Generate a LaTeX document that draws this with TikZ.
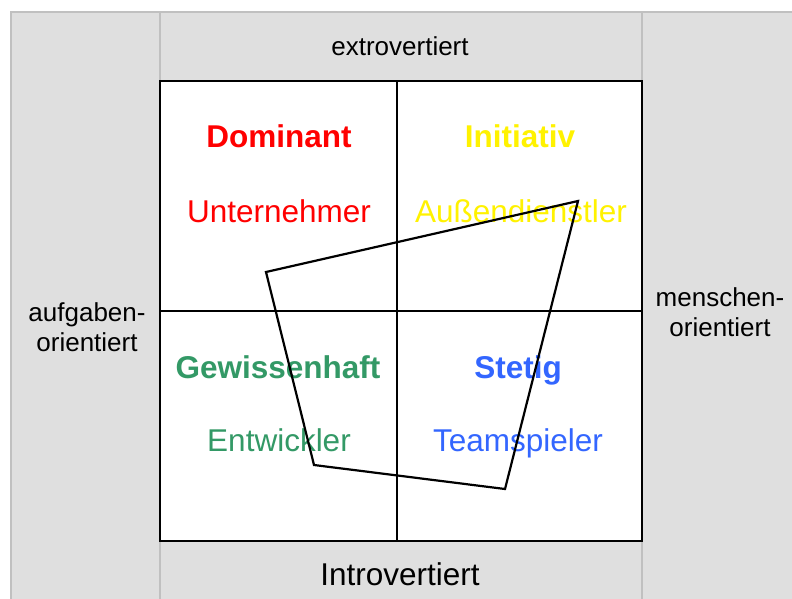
\documentclass[tikz,border=0pt]{standalone}
\usepackage{fontspec}
\setmainfont{Liberation Sans}
\definecolor{panelgray}{RGB}{223,223,223}
\definecolor{rulegray}{RGB}{192,192,192}
\definecolor{dgreen}{RGB}{51,153,102}
\definecolor{sblue}{RGB}{51,102,255}
\newcommand{\bigtxt}{\fontsize{31.5}{36}\selectfont}
\newcommand{\axistxt}{\fontsize{26}{30}\selectfont}

\begin{document}
\begin{tikzpicture}[x=1pt,y=-1pt,
	type/.style={anchor=base,inner sep=0pt,font=\bigtxt\bfseries},
	role/.style={anchor=base,inner sep=0pt,font=\bigtxt},
	axis/.style={anchor=base,inner sep=0pt,align=center,font=\axistxt}]
	\useasboundingbox (0,0) rectangle (792,598);
	% gray frame around the quadrants
	\fill[panelgray] (11,12) rectangle (796,602);
	\draw[rulegray,line width=1.8pt] (11,602) -- (11,12) -- (796,12);
	\draw[rulegray,line width=1.5pt] (160,12) -- (160,602) (642,12) -- (642,602);
	% the four quadrants
	\coordinate (nw) at (160,81);
	\coordinate (se) at (642,541);
	\coordinate (mid) at (397,311);
	\filldraw[fill=white,line width=1.8pt] (nw) rectangle (se);
	\draw[line width=1.8pt] (mid |- nw) -- (mid |- se) (nw |- mid) -- (se |- mid);
	% axis labels (base = last line)
	\node[axis] (extro) at (400,55) {extrovertiert};
	\node[anchor=base,inner sep=0pt,font=\bigtxt] (intro) at (400,585) {Introvertiert};
	\node[axis] (task) at (87,351.5) {aufgaben-\\orientiert};
	\node[axis] (people) at (720,336.5) {menschen-\\orientiert};
	% types and roles
	\node[type,red] (dom) at (279,147.5) {Dominant};
	\node[role,red] (dom-r) at (279,222) {Unternehmer};
	\node[type,yellow] (ini) at (520,147.5) {Initiativ};
	\node[role,yellow] (ini-r) at (521,222) {Außendienstler};
	\node[type,dgreen] (gew) at (278,378) {Gewissenhaft};
	\node[role,dgreen] (gew-r) at (279,451) {Entwickler};
	\node[type,sblue] (ste) at (518,378) {Stetig};
	\node[role,sblue] (ste-r) at (518,451) {Teamspieler};
	% profile
	\coordinate (p1) at (266,272);
	\coordinate (p2) at (578,201);
	\coordinate (p3) at (505,489);
	\coordinate (p4) at (314,465);
	\draw[line width=2.2pt,line join=miter] (p1) -- (p2) -- (p3) -- (p4) -- cycle;
\end{tikzpicture}
\end{document}
